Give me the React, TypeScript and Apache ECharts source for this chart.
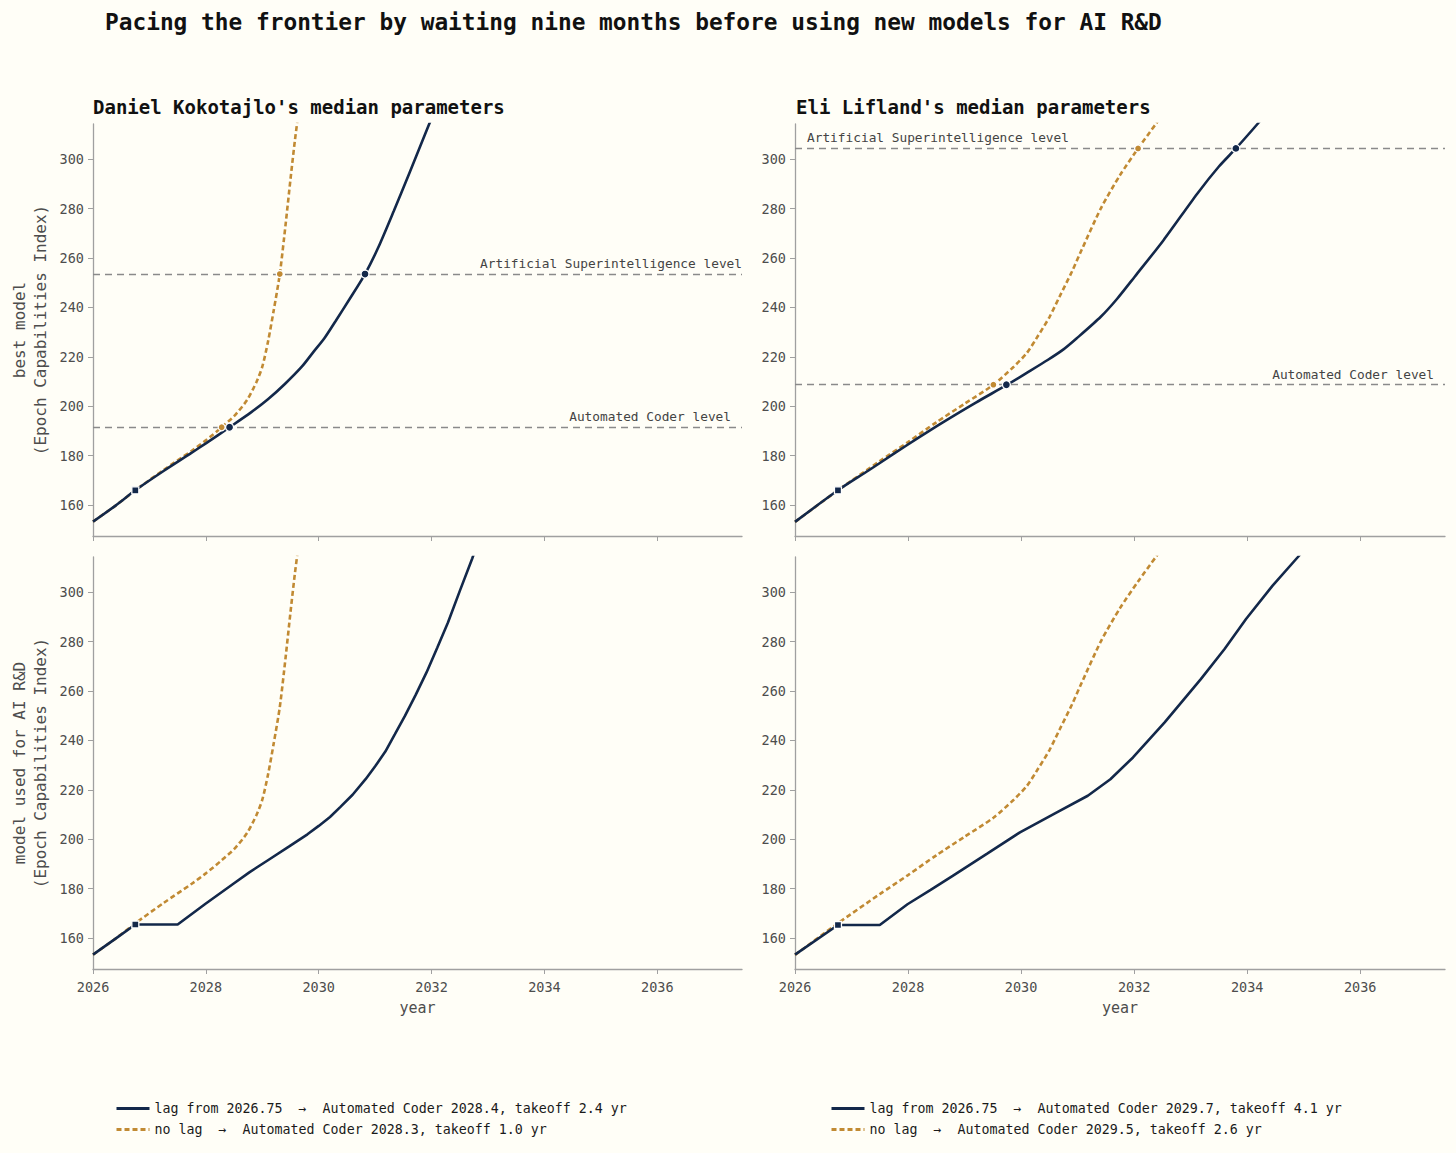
import React, { useEffect, useRef } from 'react';
import * as echarts from 'echarts';

const FONT = 'DejaVu Sans Mono';
const NAVY = '#13284a';
const GOLD = '#c18a33';
const GRAY = '#8a8a8a';
const TEXT = '#4d4d4d';

const xTicks = [2026, 2028, 2030, 2032, 2034, 2036];
const yTicks = [160, 180, 200, 220, 240, 260, 280, 300];

// Daniel Kokotajlo
const kLagBest = [
  [2026.0, 153.3], [2026.4, 159.8], [2026.75, 166], [2027.25, 173.8], [2027.75, 181.2],
  [2028.0, 185], [2028.42, 191.5], [2028.8, 197.5], [2029.1, 202.8], [2029.4, 209],
  [2029.7, 216], [2029.9, 221.8], [2030.1, 227.5], [2030.3, 234.5], [2030.55, 243.5],
  [2030.82, 253.5], [2031.05, 264], [2031.33, 279], [2031.6, 294], [2031.95, 313.8], [2032.1, 322],
];
const kNoLag = [
  [2026.0, 153.3], [2026.4, 159.8], [2026.75, 166], [2027.25, 174.2], [2027.75, 182],
  [2028.0, 186.2], [2028.28, 191.5], [2028.5, 196], [2028.73, 202.5], [2028.9, 210],
  [2029.0, 216], [2029.1, 226], [2029.2, 238.5], [2029.31, 253.5], [2029.41, 273],
  [2029.5, 292], [2029.58, 308], [2029.66, 322],
];
const kLagUsed = [
  [2026.0, 153.3], [2026.4, 159.8], [2026.75, 165.5], [2027.5, 165.5], [2028.0, 174],
  [2028.5, 182.2], [2028.77, 186.6], [2029.1, 191.5], [2029.47, 197], [2029.8, 202],
  [2030.0, 205.4], [2030.2, 209], [2030.38, 213], [2030.6, 218], [2030.83, 224.3],
  [2031.0, 229.5], [2031.18, 235.5], [2031.35, 242.5], [2031.53, 250], [2031.72, 258.5],
  [2031.91, 267.5], [2032.1, 277.5], [2032.29, 287.7], [2032.5, 300.5], [2032.72, 313.6], [2032.85, 322],
];
const kLagCross = [[2028.42, 191.5], [2030.82, 253.5]];
const kNoLagCross = [[2028.28, 191.5], [2029.31, 253.5]];
const kLagStartBest = [[2026.75, 166]];
const kLagStartUsed = [[2026.75, 165.5]];
const kLevels = { ac: 191.5, asi: 253.5 };

// Eli Lifland
const lLagBest = [
  [2026.0, 153.2], [2026.76, 166], [2027.3, 174], [2027.73, 180.5], [2028.2, 187.5],
  [2028.58, 193], [2029.2, 201.5], [2029.74, 208.5], [2030.1, 213.5], [2030.47, 218.7],
  [2030.75, 223], [2030.98, 227.4], [2031.41, 236.2], [2031.7, 243.5], [2032.01, 252.4],
  [2032.52, 267.2], [2033.12, 286.1], [2033.5, 297], [2033.8, 304.3], [2034.19, 314.4], [2034.3, 317.5],
];
const lNoLag = [
  [2026.0, 153.2], [2026.76, 166], [2027.5, 177.8], [2028.0, 185.5], [2028.5, 193.5],
  [2029.0, 201], [2029.51, 208.7], [2029.87, 216], [2030.1, 221.5], [2030.3, 228.5],
  [2030.5, 236], [2030.68, 244.3], [2030.9, 254.5], [2031.07, 263.2], [2031.41, 280],
  [2031.75, 293.5], [2032.07, 304.3], [2032.39, 314.4], [2032.5, 318],
];
const lLagUsed = [
  [2026.0, 153.3], [2026.76, 165.3], [2027.5, 165.3], [2027.99, 173.7], [2028.4, 179.5],
  [2028.79, 185.2], [2029.4, 194.2], [2029.98, 202.8], [2030.6, 210.5], [2031.18, 217.6],
  [2031.58, 224.3], [2031.98, 233.1], [2032.54, 247.3], [2033.18, 264.8], [2033.6, 277],
  [2033.98, 289.1], [2034.45, 302.6], [2034.89, 314], [2035.0, 317],
];
const lLagCross = [[2029.74, 208.7], [2033.8, 304.3]];
const lNoLagCross = [[2029.51, 208.7], [2032.07, 304.3]];
const lLagStartBest = [[2026.76, 166]];
const lLagStartUsed = [[2026.76, 165.3]];
const lLevels = { ac: 208.7, asi: 304.3 };

const lagK = 'lag from 2026.75  →  Automated Coder 2028.4, takeoff 2.4 yr';
const noLagK = 'no lag  →  Automated Coder 2028.3, takeoff 1.0 yr';
const lagL = 'lag from 2026.75  →  Automated Coder 2029.7, takeoff 4.1 yr';
const noLagL = 'no lag  →  Automated Coder 2029.5, takeoff 2.6 yr';

export default function App() {
  const chartRef = useRef<HTMLDivElement>(null);

  useEffect(() => {
    if (!chartRef.current) return;
    const chart = echarts.init(chartRef.current, null, { renderer: 'svg' });

    const grids = [
      { left: 93, top: 124, width: 649, height: 412 },
      { left: 93, top: 557, width: 649, height: 412 },
      { left: 795, top: 124, width: 650, height: 412 },
      { left: 795, top: 557, width: 650, height: 412 },
    ];

    const xAxis = grids.map((_, i) => ({
      type: 'value',
      gridIndex: i,
      min: 2026,
      max: 2037.5,
      name: i % 2 === 1 ? 'year' : '',
      nameLocation: 'middle',
      nameGap: 31,
      nameTextStyle: { fontFamily: FONT, fontSize: 15, color: TEXT },
      axisLine: { show: true, lineStyle: { color: '#a0a0a0', width: 1.3 } },
      axisTick: { show: true, length: 5, lineStyle: { color: '#a0a0a0' }, customValues: xTicks },
      axisLabel: {
        show: i % 2 === 1,
        customValues: xTicks,
        formatter: (v: number) => String(v),
        fontFamily: FONT,
        fontSize: 13.5,
        color: TEXT,
        margin: 11,
      },
      splitLine: { show: false },
    }));

    const yNames = ['best model\n(Epoch Capabilities Index)', 'model used for AI R&D\n(Epoch Capabilities Index)', '', ''];
    const yAxis = grids.map((_, i) => ({
      type: 'value',
      gridIndex: i,
      min: 147.5,
      max: 314.2,
      name: yNames[i],
      nameLocation: 'middle',
      nameRotate: 90,
      nameGap: 42,
      nameTextStyle: { fontFamily: FONT, fontSize: 16, color: TEXT, lineHeight: 21 },
      axisLine: { show: true, lineStyle: { color: '#a0a0a0', width: 1.3 } },
      axisTick: { show: true, length: 5, lineStyle: { color: '#a0a0a0' }, customValues: yTicks },
      axisLabel: {
        customValues: yTicks,
        formatter: (v: number) => String(v),
        fontFamily: FONT,
        fontSize: 13.5,
        color: TEXT,
        margin: 9,
      },
      splitLine: { show: false },
    }));

    const levelLabel = (text: string, position: string, distance: number[]) => ({
      formatter: text,
      position,
      distance,
      fontFamily: FONT,
      fontSize: 12.8,
      color: '#444',
    });

    const goldLine = (name: string, data: number[][], idx: number, markLine?: any) => ({
      name,
      type: 'line',
      xAxisIndex: idx,
      yAxisIndex: idx,
      data,
      symbol: 'none',
      smooth: 0.25,
      clip: true,
      z: 2,
      lineStyle: { color: GOLD, width: 2.6, type: [5, 3] },
      itemStyle: { color: GOLD },
      markLine,
    });
    const navyLine = (name: string, data: number[][], idx: number, smooth: number) => ({
      name,
      type: 'line',
      xAxisIndex: idx,
      yAxisIndex: idx,
      data,
      symbol: 'none',
      smooth,
      clip: true,
      z: 3,
      lineStyle: { color: NAVY, width: 2.6 },
      itemStyle: { color: NAVY },
    });
    const dots = (data: number[][], idx: number, color: string, symbol: string, size: number) => ({
      type: 'scatter',
      xAxisIndex: idx,
      yAxisIndex: idx,
      data,
      symbol,
      symbolSize: size,
      z: 5,
      itemStyle: { color, borderColor: '#ffffff', borderWidth: 1.3, opacity: 1 },
    });
    const levels = (ac: number, asi: number, asiPos: string, asiDist: number[]) => ({
      silent: true,
      symbol: ['none', 'none'],
      lineStyle: { color: GRAY, type: [7, 5], width: 1.4 },
      data: [
        { yAxis: ac, label: levelLabel('Automated Coder level', 'insideEndTop', [11, 4]) },
        { yAxis: asi, label: levelLabel('Artificial Superintelligence level', asiPos, asiDist) },
      ],
    });

    const series = [
      goldLine(noLagK, kNoLag, 0, levels(kLevels.ac, kLevels.asi, 'insideEndTop', [0, 4])),
      navyLine(lagK, kLagBest, 0, 0.25),
      dots(kNoLagCross, 0, GOLD, 'circle', 7),
      dots(kLagCross, 0, NAVY, 'circle', 8),
      dots(kLagStartBest, 0, NAVY, 'rect', 7),

      goldLine(noLagK, kNoLag, 1),
      navyLine(lagK, kLagUsed, 1, 0),
      dots(kLagStartUsed, 1, NAVY, 'rect', 7),

      goldLine(noLagL, lNoLag, 2, levels(lLevels.ac, lLevels.asi, 'insideStartTop', [12, 4])),
      navyLine(lagL, lLagBest, 2, 0.25),
      dots(lNoLagCross, 2, GOLD, 'circle', 7),
      dots(lLagCross, 2, NAVY, 'circle', 8),
      dots(lLagStartBest, 2, NAVY, 'rect', 7),

      goldLine(noLagL, lNoLag, 3),
      navyLine(lagL, lLagUsed, 3, 0),
      dots(lLagStartUsed, 3, NAVY, 'rect', 7),
    ];

    const legendBase = {
      orient: 'vertical',
      top: 1102,
      padding: 0,
      itemWidth: 33,
      itemHeight: 12,
      itemGap: 8,
      itemStyle: { opacity: 0 },
      lineStyle: { width: 3 },
      textStyle: { fontFamily: FONT, fontSize: 13.3, color: '#1a1a1a' },
    };

    const titleFont = { fontFamily: FONT, fontWeight: 'bold', color: '#111' };

    const option = {
      animation: false,
      backgroundColor: '#fffef7',
      title: [
        {
          text: 'Pacing the frontier by waiting nine months before using new models for AI R&D',
          left: 105,
          top: 10,
          padding: 0,
          textStyle: { ...titleFont, fontSize: 22.8 },
        },
        {
          text: "Daniel Kokotajlo's median parameters",
          left: 93,
          top: 97,
          padding: 0,
          textStyle: { ...titleFont, fontSize: 19 },
        },
        {
          text: "Eli Lifland's median parameters",
          left: 796,
          top: 97,
          padding: 0,
          textStyle: { ...titleFont, fontSize: 19 },
        },
      ],
      legend: [
        { ...legendBase, left: 115, data: [lagK, noLagK] },
        { ...legendBase, left: 830, data: [lagL, noLagL] },
      ],
      grid: grids,
      xAxis,
      yAxis,
      series,
    };

    chart.setOption(option);

    const handleResize = () => chart.resize();
    window.addEventListener('resize', handleResize);
    return () => {
      window.removeEventListener('resize', handleResize);
      chart.dispose();
    };
  }, []);

  return (
    <div
      ref={chartRef}
      style={{ position: 'absolute', left: 0, top: 0, width: 1456, height: 1153, background: '#fffef7' }}
    />
  );
}
